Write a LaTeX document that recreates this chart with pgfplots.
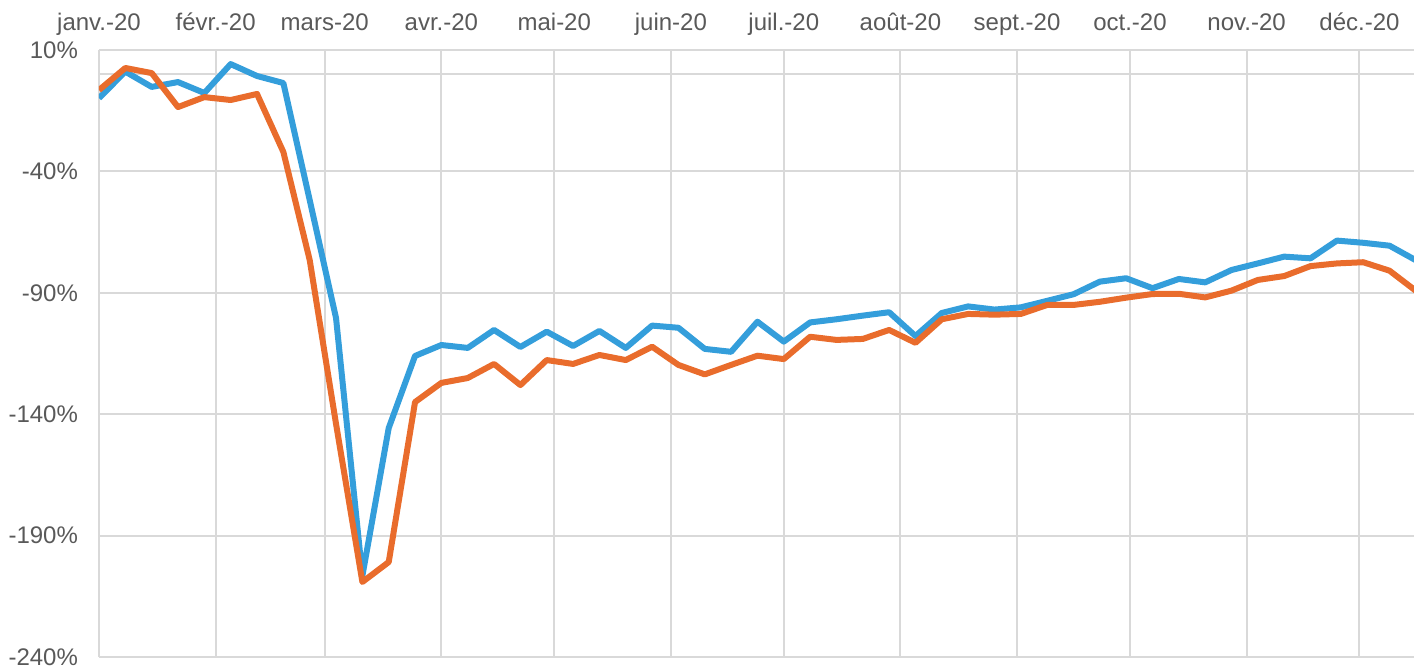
\documentclass[border=0pt]{standalone}
\usepackage{pgfplots}
\pgfplotsset{compat=1.18}
\usepackage{pgfplotstable}
\usepackage{fontspec}
\setmainfont{Liberation Sans}
\definecolor{txtgray}{RGB}{89,89,89}
\definecolor{gridgray}{RGB}{217,217,217}
\definecolor{serieblue}{RGB}{52,158,219}
\definecolor{serieorange}{RGB}{233,108,44}

% jour (0 = 1er janvier 2020), valeur en %
\pgfplotstableread{
day blue orange
0   -9.8   -6.5
7    1.1    2.6
14  -5.2    0.5
21  -3.2  -13.5
28  -7.7   -9.4
35   4.2  -10.6
42  -0.7   -8.1
49  -3.6  -32.0
56  -51.8  -76.5
63  -100.4 -144.0
70  -206.6 -209.1
77  -145.7 -200.9
84  -116.0 -135.0
91  -111.5 -127.1
98  -112.7 -125.1
105 -105.3 -119.3
112 -112.3 -128.0
119 -106.0 -117.7
126 -111.9 -119.3
133 -105.7 -115.6
140 -112.7 -117.7
147 -103.5 -112.2
154 -104.4 -119.7
161 -113.1 -123.6
168 -114.3 -119.7
175 -101.9 -115.9
182 -110.1 -117.3
189 -102.2 -108.1
196 -100.9 -109.4
203 -99.4  -109.0
210 -98.0  -105.3
217 -107.8 -110.6
224 -98.3  -100.9
231 -95.6  -98.7
238 -96.9  -99.0
245 -96.0  -98.7
252 -93.3  -95.0
259 -90.6  -95.0
266 -85.4  -93.7
273 -84.0  -92.0
280 -88.1  -90.5
287 -84.3  -90.4
294 -85.7  -91.9
301 -80.6  -89.1
308 -77.9  -84.7
315 -75.1  -83.1
322 -75.8  -79.0
329 -68.5  -77.9
336 -69.4  -77.4
343 -70.6  -80.9
350 -76.6  -89.2
}\datatable

\begin{document}
\begin{tikzpicture}
\useasboundingbox (-49.5pt,-4.5pt) rectangle (657.5pt,328.5pt);
\begin{axis}[
    at={(0,0)}, anchor=south west,
    scale only axis,
    width=657.5pt, height=303.5pt,
    xmin=0, xmax=349.5,
    ymin=-240, ymax=10,
    axis line style={draw=none},
    major tick length=0pt,
    xtick={0,31,60,91,121,152,182,213,244,274,305,335},
    xticklabels={janv.-20,févr.-20,mars-20,avr.-20,mai-20,juin-20,juil.-20,août-20,sept.-20,oct.-20,nov.-20,déc.-20},
    xticklabel pos=upper,
    xticklabel style={anchor=base, yshift=10pt, font=\fontsize{12}{14}\selectfont, text=txtgray},
    ytick={-240,-190,-140,-90,-40,10},
    yticklabels={-240\%,-190\%,-140\%,-90\%,-40\%,10\%},
    yticklabel style={xshift=-7pt, font=\fontsize{12}{14}\selectfont, text=txtgray},
    extra y ticks={0},
    extra y tick labels={},
    extra y tick style={grid=major},
    grid=major,
    major grid style={gridgray, line width=1pt},
    line join=round,
]
\addplot[serieblue, line width=3pt] table[x=day, y=blue] {\datatable};
\addplot[serieorange, line width=3pt] table[x=day, y=orange] {\datatable};
\end{axis}
\end{tikzpicture}
\end{document}
